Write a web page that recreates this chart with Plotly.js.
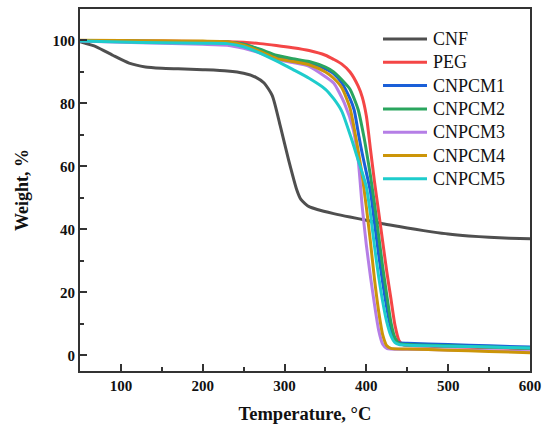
<!DOCTYPE html>
<html>
<head>
<meta charset="utf-8">
<script src="https://cdn.plot.ly/plotly-3.0.1.min.js"></script>
<style>html,body{margin:0;padding:0;background:#fff;}#chart{width:546px;height:426px;}</style>
</head>
<body>
<div id="chart"></div>
<script>
const seriesNames = ["CNF", "PEG", "CNPCM1", "CNPCM2", "CNPCM3", "CNPCM4", "CNPCM5"];

const tCNF = [50, 70, 90, 110, 130, 150, 170, 200, 230, 250, 265, 275, 285, 295, 305, 315, 320, 325, 330, 340, 360, 380, 400, 420, 440, 460, 480, 500, 525, 550, 575, 600];
const wCNF = [99.6, 98, 95.3, 92.8, 91.6, 91.2, 91.0, 90.7, 90.3, 89.6, 88.3, 86.5, 82.5, 72.6, 62, 52.5, 49.5, 48.2, 47.2, 46.3, 45, 43.9, 42.9, 41.8, 40.9, 40, 39.2, 38.5, 37.9, 37.5, 37.2, 37.0];

const tPEG = [50, 100, 150, 200, 230, 250, 270, 290, 310, 330, 350, 360, 370, 380, 390, 395, 400, 405, 410, 415, 420, 425, 430, 435, 440, 445, 450, 500, 550, 600];
const wPEG = [100, 99.9, 99.8, 99.7, 99.6, 99.4, 99.0, 98.4, 97.7, 96.8, 95.3, 94, 92.5, 90, 85.5, 82, 76, 65.5, 55, 45.5, 36, 26.5, 18, 9.5, 4.6, 3.3, 3.1, 2.7, 2.4, 2.1];

const tPCM1 = [50, 100, 150, 200, 230, 250, 270, 290, 310, 330, 350, 360, 370, 380, 385, 391, 395, 400, 405, 410, 415, 420, 425, 430, 435, 440, 450, 500, 550, 600];
const wPCM1 = [99.9, 99.8, 99.7, 99.6, 99.4, 98.8, 97, 95, 94, 93, 91, 89.5, 86.5, 81.5, 78, 69.4, 64, 58, 52, 42, 32, 23, 15, 8.5, 4.8, 4.0, 3.8, 3.4, 3.0, 2.6];

const tPCM2 = [50, 100, 150, 200, 230, 250, 270, 290, 310, 330, 350, 360, 370, 380, 390, 397, 400, 405, 410, 415, 420, 425, 430, 435, 440, 450, 500, 550, 600];
const wPCM2 = [99.9, 99.8, 99.7, 99.6, 99.5, 98.8, 97.2, 95.3, 94.2, 93.3, 91.5, 90, 87.5, 84.5, 78, 69.4, 65, 57, 48, 38, 28, 19, 10.5, 5.5, 3.7, 3.4, 3.0, 2.6, 2.2];

const tPCM3 = [50, 100, 150, 200, 230, 250, 270, 290, 310, 330, 350, 360, 373, 384, 390, 395, 400, 405, 410, 415, 420, 425, 430, 450, 500, 550, 600];
const wPCM3 = [99.8, 99.4, 99.1, 98.8, 98.5, 97.5, 96, 94, 93, 91.8, 88.5, 86.5, 80.2, 71.7, 62, 47, 35, 25, 16, 8, 3.5, 2.2, 2.0, 1.9, 1.7, 1.4, 1.1];

const tPCM4 = [50, 100, 150, 200, 230, 250, 270, 290, 310, 330, 350, 360, 370, 380, 387, 390, 395, 400, 405, 410, 415, 420, 425, 430, 450, 500, 550, 600];
const wPCM4 = [100.1, 100, 99.9, 99.8, 99.6, 98.5, 96.5, 94.3, 93.3, 92.3, 90, 88, 85, 78.5, 69.4, 65, 57, 47, 36, 24, 14, 6.5, 3.0, 2.2, 2.0, 1.6, 1.2, 0.8];

const tPCM5 = [50, 100, 150, 200, 230, 250, 270, 290, 310, 330, 350, 360, 370, 381, 390, 395, 400, 405, 410, 415, 420, 425, 430, 435, 440, 450, 500, 550, 600];
const wPCM5 = [99.8, 99.5, 99.3, 99.1, 99, 98, 96, 93.5, 90.8, 88, 84.5, 81.5, 77.5, 69.4, 62, 58, 53.5, 45, 34.5, 25, 17, 10.5, 6.2, 4.0, 3.4, 3.2, 2.9, 2.6, 2.3];

const xTicks = [100, 200, 300, 400, 500, 600];
const yTicks = [0, 20, 40, 60, 80, 100];

const colors = ["#4f4f4f", "#f44646", "#1a5fd8", "#2aa55e", "#b57ee6", "#cc9508", "#1ecccc"];
const xs = [tCNF, tPEG, tPCM1, tPCM2, tPCM3, tPCM4, tPCM5];
const ys = [wCNF, wPEG, wPCM1, wPCM2, wPCM3, wPCM4, wPCM5];

const traces = seriesNames.map((n, i) => ({
  x: xs[i], y: ys[i], name: n, type: "scatter", mode: "lines",
  line: {color: colors[i], width: 3, shape: "spline", smoothing: 0.6}
}));

// Manual legend (pixel layout converted to paper coordinates)
const W = 546, H = 426, mL = 80, mR = 16, mT = 9, mB = 55;
const pw = W - mL - mR, ph = H - mT - mB;
const px2x = p => (p - mL) / pw;
const py2y = p => 1 - (p - mT) / ph;
const legShapes = [], legAnn = [];
seriesNames.forEach((n, i) => {
  const cy = 39 + 23.3 * i;
  legShapes.push({type: "line", xref: "paper", yref: "paper",
    x0: px2x(383), x1: px2x(427), y0: py2y(cy), y1: py2y(cy),
    line: {color: colors[i], width: 3}});
  legAnn.push({xref: "paper", yref: "paper", x: px2x(431), y: py2y(cy),
    xanchor: "left", yanchor: "middle", showarrow: false, text: n,
    font: {family: "Liberation Serif", size: 18, color: "#111"}});
});

const axisBase = {
  showgrid: false, zeroline: false, showline: true, linecolor: "#333", linewidth: 2,
  mirror: true, ticks: "inside", ticklen: 7, tickwidth: 2, tickcolor: "#333",
  tickfont: {family: "Liberation Serif", size: 15, color: "#111", weight: "bold"}
};

const layout = {
  width: W, height: H,
  margin: {l: mL, r: mR, t: mT, b: mB},
  paper_bgcolor: "#fff", plot_bgcolor: "#fff",
  font: {family: "Liberation Serif", color: "#111"},
  showlegend: false,
  xaxis: Object.assign({}, axisBase, {
    range: [50, 600], tickvals: xTicks, ticktext: xTicks.map(String),
    minor: {dtick: 50, tick0: 0, ticks: "inside", ticklen: 4, tickwidth: 2, tickcolor: "#333"},
    title: {text: "<b>Temperature, °C</b>", font: {family: "Liberation Serif", size: 18.5, color: "#111"}, standoff: 14}
  }),
  yaxis: Object.assign({}, axisBase, {
    range: [-5, 110], tickvals: yTicks, ticktext: yTicks.map(String),
    minor: {dtick: 10, tick0: 0, ticks: "inside", ticklen: 4, tickwidth: 2, tickcolor: "#333"},
    title: {text: "<b>Weight, %</b>", font: {family: "Liberation Serif", size: 18, color: "#111"}, standoff: 19}
  }),
  shapes: legShapes,
  annotations: legAnn
};

Plotly.newPlot("chart", traces, layout, {displayModeBar: false, staticPlot: true});
</script>
</body>
</html>
